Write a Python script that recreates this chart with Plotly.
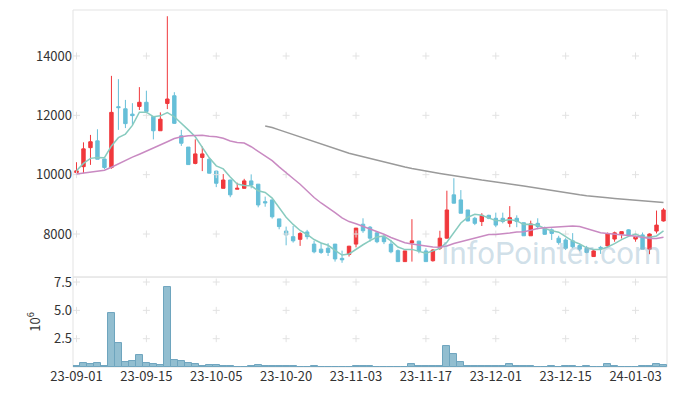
import plotly.graph_objects as go

dates = [
    "2023-09-01", "2023-09-04", "2023-09-05", "2023-09-06", "2023-09-07", "2023-09-08",
    "2023-09-11", "2023-09-12", "2023-09-13", "2023-09-14", "2023-09-15",
    "2023-09-18", "2023-09-19", "2023-09-20", "2023-09-21", "2023-09-22",
    "2023-09-25", "2023-09-26", "2023-09-27",
    "2023-10-04", "2023-10-05", "2023-10-06", "2023-10-10", "2023-10-11", "2023-10-12", "2023-10-13",
    "2023-10-16", "2023-10-17", "2023-10-18", "2023-10-19", "2023-10-20",
    "2023-10-23", "2023-10-24", "2023-10-25", "2023-10-26", "2023-10-27",
    "2023-10-30", "2023-10-31", "2023-11-01", "2023-11-02", "2023-11-03",
    "2023-11-06", "2023-11-07", "2023-11-08", "2023-11-09", "2023-11-10",
    "2023-11-13", "2023-11-14", "2023-11-15", "2023-11-16", "2023-11-17",
    "2023-11-20", "2023-11-21", "2023-11-22", "2023-11-23", "2023-11-24",
    "2023-11-27", "2023-11-28", "2023-11-29", "2023-11-30", "2023-12-01",
    "2023-12-04", "2023-12-05", "2023-12-06", "2023-12-07", "2023-12-08",
    "2023-12-11", "2023-12-12", "2023-12-13", "2023-12-14", "2023-12-15",
    "2023-12-18", "2023-12-19", "2023-12-20", "2023-12-21", "2023-12-22",
    "2023-12-26", "2023-12-27", "2023-12-28",
    "2024-01-02", "2024-01-03", "2024-01-04", "2024-01-05", "2024-01-08", "2024-01-09",
]

open_ = [10070, 10270, 10910, 11140, 10530, 10240, 12290, 12220, 12040, 12300,
         12440, 11960, 11480, 12400, 12660, 11310, 10930, 10380, 10580, 10520,
         10120, 9540, 9820, 9510, 9540, 9790, 9680, 9090, 9150, 8510,
         8100, 7910, 7820, 8070, 7660, 7490, 7520, 7660, 7180, 7310,
         7660, 8330, 8230, 8040, 7890, 7660, 7440, 7070, 7700, 7760,
         7430, 7100, 7520, 7860, 9320, 9150, 8810, 8530, 8420, 8630,
         8530, 8530, 8360, 8530, 8380, 7940, 8360, 8190, 8140, 7860,
         7800, 7770, 7610, 7520, 7240, 7550, 7600, 7830, 7990, 8140,
         7830, 7970, 7490, 8100, 8440]
high = [10420, 11090, 11340, 11530, 10530, 13330, 13220, 12520, 12410, 12950,
        12830, 11960, 12100, 15340, 12780, 11510, 10930, 11190, 10950, 10560,
        10130, 10020, 9830, 9730, 9860, 10010, 9680, 9260, 9150, 8510,
        8250, 8270, 8060, 8140, 7770, 7710, 7690, 7660, 7440, 7600,
        8200, 8530, 8270, 8100, 7970, 7800, 7480, 7430, 8500, 7770,
        7520, 7490, 8110, 9460, 9880, 9480, 8810, 8580, 8700, 8650,
        8720, 8720, 8940, 8630, 8390, 8450, 8530, 8250, 8190, 7940,
        7860, 8030, 7660, 7600, 7460, 7600, 8050, 8080, 8080, 8160,
        8020, 8050, 8020, 8790, 8870]
low = [10040, 10050, 10330, 10520, 10190, 10200, 11510, 11570, 11680, 12180,
       12110, 11190, 11480, 12210, 11710, 10970, 10330, 10350, 10120, 10040,
       9580, 9540, 9240, 9510, 9530, 9540, 8900, 8920, 8520, 8160,
       7620, 7710, 7600, 7820, 7350, 7330, 7260, 7070, 7030, 7240,
       7550, 8040, 7740, 7690, 7660, 7350, 7060, 7060, 7070, 7350,
       7060, 7070, 7460, 7850, 9030, 8700, 8430, 8300, 8270, 8500,
       8230, 8360, 8230, 8230, 7940, 7940, 8160, 7970, 7800, 7640,
       7460, 7520, 7420, 7350, 7230, 7330, 7570, 7740, 7850, 7930,
       7740, 7490, 7320, 8020, 8420]
close = [10130, 10870, 11110, 10520, 10240, 12100, 12260, 11720, 11990, 12440,
         12130, 11480, 11870, 12550, 11730, 11060, 10340, 10700, 10700, 10050,
         9710, 9820, 9320, 9540, 9790, 9650, 8980, 9050, 8580, 8250,
         7970, 7770, 8020, 7910, 7400, 7380, 7380, 7160, 7130, 7590,
         8200, 8110, 7860, 7740, 7740, 7400, 7070, 7430, 7770, 7430,
         7070, 7460, 7860, 8810, 9040, 8700, 8440, 8360, 8630, 8530,
         8300, 8420, 8550, 8420, 7940, 8340, 8250, 7990, 8020, 7710,
         7520, 7570, 7490, 7380, 7430, 7520, 8000, 8040, 8080, 7970,
         7910, 7490, 8000, 8300, 8810]

ma5 = [10135, 10380, 10550, 10575, 10573, 10968, 11247, 11368, 11662, 12104,
       12108, 11953, 11982, 12094, 11953, 11739, 11510, 11276, 10905, 10568,
       10298, 10195, 9918, 9687, 9635, 9624, 9455, 9401, 9210, 8901,
       8564, 8323, 8119, 7984, 7815, 7698, 7620, 7447, 7291, 7328,
       7492, 7638, 7777, 7899, 7930, 7770, 7561, 7475, 7482, 7419,
       7352, 7431, 7516, 7724, 8045, 8372, 8567, 8668, 8632, 8531,
       8452, 8447, 8486, 8443, 8325, 8332, 8298, 8186, 8108, 8060,
       7897, 7762, 7663, 7535, 7479, 7479, 7564, 7674, 7813, 7921,
       7999, 7898, 7889, 7934, 8103]
ma20 = [10024, 10050, 10090, 10120, 10150, 10250, 10370, 10480, 10590, 10690,
        10790, 10890, 11000, 11110, 11220, 11280, 11310, 11325, 11330, 11299,
        11278, 11226, 11136, 11087, 11065, 10942, 10778, 10644, 10474, 10264,
        10056, 9871, 9679, 9446, 9230, 9046, 8898, 8721, 8543, 8420,
        8344, 8259, 8186, 8096, 7993, 7881, 7785, 7704, 7664, 7623,
        7578, 7562, 7554, 7599, 7681, 7746, 7799, 7859, 7934, 7981,
        7986, 8002, 8036, 8070, 8080, 8127, 8186, 8214, 8227, 8241,
        8263, 8269, 8251, 8179, 8099, 8040, 8018, 8002, 7975, 7946,
        7927, 7881, 7853, 7848, 7891]
ma60 = [None] * 27 + [
    11640, 11590, 11510, 11430, 11350, 11270, 11190, 11110, 11030, 10950,
    10870, 10790, 10720, 10660, 10600, 10540, 10490, 10430, 10380, 10320,
    10260, 10210, 10160, 10120, 10080, 10040, 10000, 9970, 9930, 9890,
    9860, 9820, 9790, 9750, 9720, 9680, 9650, 9620, 9580, 9550,
    9510, 9480, 9440, 9400, 9360, 9320, 9290, 9260, 9240, 9220,
    9200, 9180, 9160, 9150, 9120, 9100, 9080, 9060]

volume_m = [0.10, 0.37, 0.22, 0.37, 0.10, 4.80, 2.10, 0.45, 0.57, 1.03,
            0.37, 0.28, 0.19, 7.10, 0.65, 0.57, 0.37, 0.28, 0.10, 0.19,
            0.19, 0.08, 0.08, 0.005, 0.005, 0.08, 0.19, 0.08, 0.08, 0.08,
            0.08, 0.08, 0.005, 0.005, 0.08, 0.005, 0.005, 0.005, 0.005, 0.005,
            0.07, 0.07, 0.07, 0.005, 0.005, 0.005, 0.005, 0.005, 0.28, 0.06,
            0.06, 0.06, 0.06, 1.85, 1.15, 0.45, 0.06, 0.06, 0.06, 0.06,
            0.06, 0.06, 0.30, 0.06, 0.06, 0.06, 0.005, 0.005, 0.06, 0.005,
            0.06, 0.06, 0.005, 0.06, 0.005, 0.005, 0.22, 0.06, 0.005, 0.005,
            0.005, 0.06, 0.06, 0.30, 0.20]

price_ticks = [8000, 10000, 12000, 14000]
vol_ticks = [2.5, 5.0, 7.5]
tick_dates = dates[::10]
tick_labels = [d[2:] for d in tick_dates]

UP = "#f0383c"
DOWN = "#66bfd8"

fig = go.Figure()

# grid crosses (drawn first, behind everything)
gx, gy = [], []
for d in tick_dates:
    for p in price_ticks:
        gx.append(d)
        gy.append(p)
fig.add_trace(go.Scatter(x=gx, y=gy, mode="markers", hoverinfo="skip", showlegend=False,
                         marker=dict(symbol="cross-thin", size=5, line=dict(color="#e2e2e2", width=1)),
                         xaxis="x", yaxis="y"))
vx, vy = [], []
for d in tick_dates:
    for v in vol_ticks:
        vx.append(d)
        vy.append(v)
fig.add_trace(go.Scatter(x=vx, y=vy, mode="markers", hoverinfo="skip", showlegend=False,
                         marker=dict(symbol="cross-thin", size=5, line=dict(color="#e2e2e2", width=1)),
                         xaxis="x", yaxis="y2"))

fig.add_trace(go.Candlestick(
    x=dates, open=open_, high=high, low=low, close=close,
    increasing=dict(line=dict(color=UP, width=1), fillcolor=UP),
    decreasing=dict(line=dict(color=DOWN, width=1), fillcolor=DOWN),
    showlegend=False, xaxis="x", yaxis="y"))

fig.add_trace(go.Scatter(x=dates, y=ma5, mode="lines", line=dict(color="#88cbbf", width=1.5),
                         showlegend=False, xaxis="x", yaxis="y"))
fig.add_trace(go.Scatter(x=dates, y=ma20, mode="lines", line=dict(color="#c98ac2", width=1.5),
                         showlegend=False, xaxis="x", yaxis="y"))
fig.add_trace(go.Scatter(x=dates, y=ma60, mode="lines", line=dict(color="#9a9a9a", width=1.5),
                         showlegend=False, xaxis="x", yaxis="y"))

fig.add_trace(go.Bar(x=dates, y=volume_m, marker=dict(color="rgba(146,190,208,1)",
                                                      line=dict(color="#6ea5be", width=1)),
                     showlegend=False, xaxis="x", yaxis="y2"))

font = dict(family="Noto Sans CJK KR, Noto Sans, sans-serif", size=13, color="#333333")

fig.update_layout(
    width=677, height=396,
    margin=dict(l=65, r=18, t=2, b=37, autoexpand=False),
    paper_bgcolor="white", plot_bgcolor="white",
    font=font,
    bargap=0,
    xaxis=dict(type="category", categoryorder="array", categoryarray=dates,
               anchor="y2", domain=[0, 1], range=[-0.5, 84.5], automargin=False,
               tickmode="array", tickvals=tick_dates, ticktext=tick_labels, tickangle=0,
               showgrid=False, zeroline=False, showline=False, ticks="",
               rangeslider=dict(visible=False), tickfont=font),
    yaxis=dict(domain=[0.252, 1], range=[6550, 15550], tickvals=price_ticks,
               ticktext=[str(p) for p in price_ticks], automargin=False,
               showgrid=False, zeroline=False, showline=False, ticks="", tickfont=font),
    yaxis2=dict(domain=[0, 0.252], range=[0, 7.94], tickvals=vol_ticks, ticktext=["2.5", "5.0", "7.5"],
                showgrid=False, zeroline=False, showline=False, ticks="", tickfont=font,
                automargin=False,
                title=dict(text="10<sup>6</sup>", font=font, standoff=10)),
    shapes=[
        dict(type="rect", xref="x domain", yref="y domain", x0=0, x1=1, y0=0, y1=1,
             line=dict(color="#e3e3e3", width=1), layer="below"),
        dict(type="rect", xref="x domain", yref="y2 domain", x0=0, x1=1, y0=0, y1=1,
             line=dict(color="#e3e3e3", width=1), layer="below"),
    ],
    annotations=[dict(text="InfoPointer.com", xref="paper", yref="paper", x=0.805, y=0.318,
                      xanchor="center", yanchor="middle", showarrow=False,
                      font=dict(family="Roboto, sans-serif", size=31, color="rgba(150,185,205,0.45)"))],
)

fig.write_html("out.html")
